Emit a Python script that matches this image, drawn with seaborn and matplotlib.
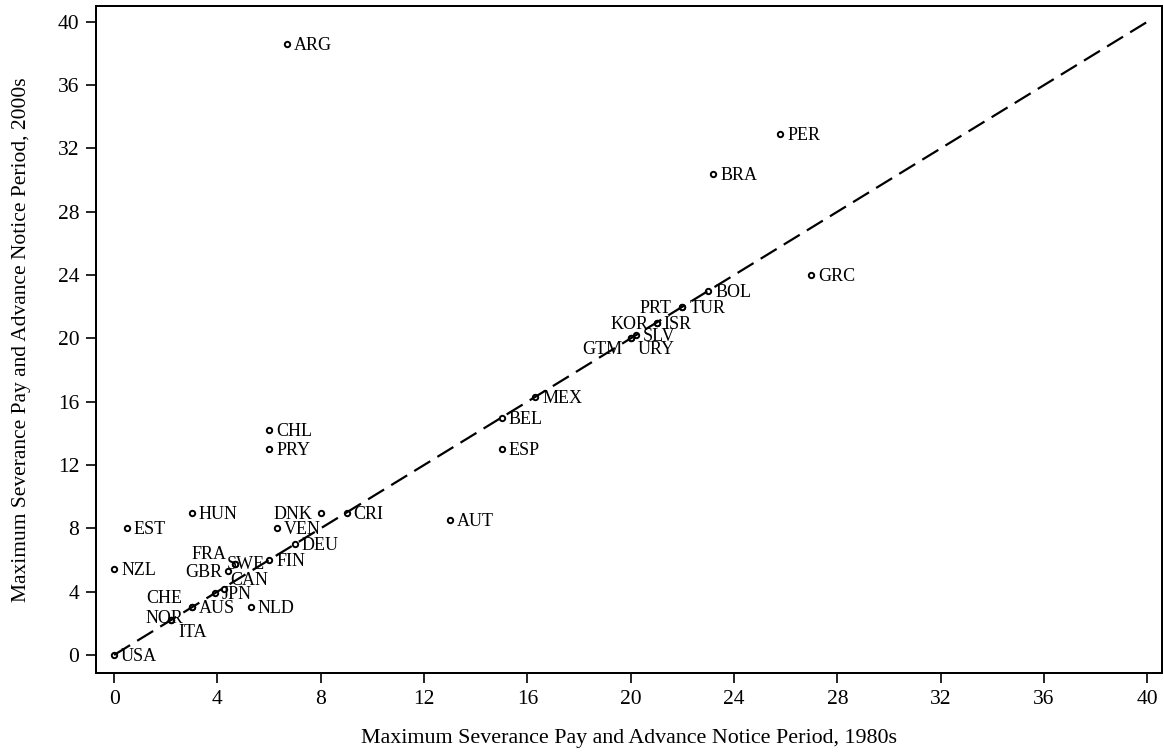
import matplotlib
matplotlib.use("Agg")
import matplotlib.pyplot as plt
import seaborn as sns
import pandas as pd

# ---- data ----
countries = ["USA", "ARG", "PER", "BRA", "GRC", "BOL", "TUR", "PRT", "ISR", "KOR",
             "SLV", "GTM", "URY", "MEX", "BEL", "ESP", "CHL", "PRY", "HUN", "EST",
             "NZL", "DNK", "CRI", "VEN", "DEU", "AUT", "FIN", "FRA", "SWE", "GBR",
             "CAN", "JPN", "AUS", "CHE", "NLD", "NOR", "ITA"]
sev_1980s = [0.0, 6.7, 25.8, 23.2, 27.0, 23.0, 22.0, 22.0, 21.0, 21.0,
             20.2, 20.0, 20.0, 16.3, 15.0, 15.0, 6.0, 6.0, 3.0, 0.5,
             0.0, 8.0, 9.0, 6.3, 7.0, 13.0, 6.0, 4.7, 4.7, 4.4,
             4.25, 3.9, 3.0, 3.0, 5.3, 2.2, 2.2]
sev_2000s = [0.0, 38.6, 32.9, 30.4, 24.0, 23.0, 22.0, 22.0, 21.0, 21.0,
             20.2, 20.0, 20.0, 16.3, 15.0, 13.0, 14.2, 13.0, 9.0, 8.0,
             5.45, 9.0, 9.0, 8.0, 7.0, 8.5, 6.0, 5.75, 5.75, 5.3,
             4.15, 3.9, 3.0, 3.0, 3.0, 2.2, 2.2]
line_x = [0, 40]
line_y = [0, 40]
ticks = [0, 4, 8, 12, 16, 20, 24, 28, 32, 36, 40]
xlabel = "Maximum Severance Pay and Advance Notice Period, 1980s"
ylabel = "Maximum Severance Pay and Advance Notice Period, 2000s"

# ---- label placement (pixel offsets, style only) ----
PX = 0.72  # points per pixel at dpi 100
DY0 = -1.5  # vertical correction for text box centring
default_off = (7, 0, "left")
label_off = {
    "PRT": (-11, 0, "right"),
    "KOR": (-8, 0, "right"),
    "GTM": (-8, -10, "right"),
    "URY": (7, -10, "left"),
    "DNK": (-8, 0, "right"),
    "CHE": (-9, 10, "right"),
    "NOR": (12, 3, "right"),
    "ITA": (7, -11, "left"),
    "CAN": (6, 10, "left"),
    "GBR": (-5, 0, "right"),
    "FRA": (-9, 11, "right"),
    "SWE": (-9, 1, "left"),
}

df = pd.DataFrame({"country": countries, "x": sev_1980s, "y": sev_2000s})

sns.set_theme(style="white")
plt.rcParams["font.family"] = ["Liberation Serif", "DejaVu Serif"]
plt.rcParams["lines.scale_dashes"] = False

fig = plt.figure(figsize=(11.64, 7.52), dpi=100)
ax = fig.add_axes([96 / 1164, 1 - 673 / 752, (1162 - 96) / 1164, (673 - 6) / 752])

sns.scatterplot(data=df, x="x", y="y", ax=ax, marker="o", s=15,
                facecolor="white", edgecolor="black", linewidth=1.4,
                zorder=3, legend=False)
sns.lineplot(x=line_x, y=line_y, ax=ax, color="black", linewidth=1.6,
             zorder=4, legend=False)
ax.lines[-1].set_dashes((13.5, 6))

for c, xv, yv in zip(countries, sev_1980s, sev_2000s):
    dx, dy, ha = label_off.get(c, default_off)
    ax.annotate(c, (xv, yv), xytext=(dx * PX, (dy + DY0) * PX), textcoords="offset points",
                ha=ha, va="center", fontsize=13, color="black", zorder=5)

ax.set_xlim(-0.7, 40.57)
ax.set_ylim(-1.14, 41.0)
ax.set_xticks(ticks)
ax.set_yticks(ticks)
ax.set_xticklabels([str(t) for t in ticks])
ax.set_yticklabels([str(t) for t in ticks])
ax.tick_params(axis="both", which="major", direction="out", length=7.5, width=1.2,
               colors="black", labelsize=15.5, bottom=True, left=True)
ax.tick_params(axis="x", pad=5)
ax.tick_params(axis="y", pad=4.5)
for sp in ax.spines.values():
    sp.set_visible(True)
    sp.set_color("black")
    sp.set_linewidth(1.44)
ax.grid(False)
ax.set_xlabel(xlabel, fontsize=15.8, color="black", labelpad=14)
ax.set_ylabel(ylabel, fontsize=15.5, color="black", labelpad=19)

fig.savefig("out.png", dpi=100, facecolor="white")
